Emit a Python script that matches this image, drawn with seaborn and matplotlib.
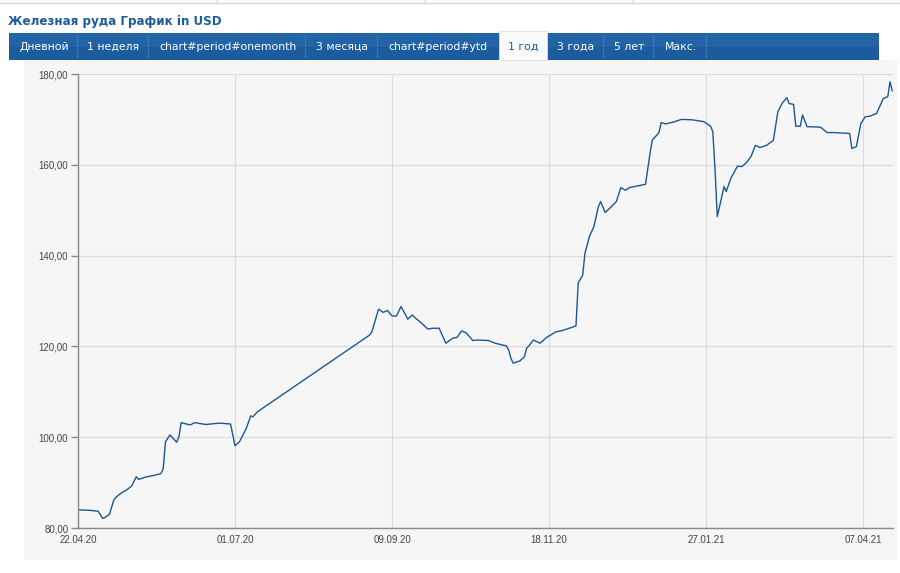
import pandas as pd
import numpy as np
import seaborn as sns
import matplotlib.pyplot as plt
import matplotlib.dates as mdates
from matplotlib.patches import Rectangle
from matplotlib.lines import Line2D
from matplotlib.ticker import FuncFormatter

# Iron ore price, USD
dates = ['2020-04-22', '2020-04-27', '2020-05-01', '2020-05-03', '2020-05-04', '2020-05-06',
         '2020-05-08', '2020-05-09', '2020-05-11', '2020-05-14', '2020-05-16', '2020-05-18',
         '2020-05-19', '2020-05-22', '2020-05-26', '2020-05-29', '2020-05-30', '2020-05-31',
         '2020-06-02', '2020-06-05', '2020-06-06', '2020-06-07', '2020-06-11', '2020-06-13',
         '2020-06-18', '2020-06-24', '2020-06-29', '2020-07-01', '2020-07-03', '2020-07-06',
         '2020-07-08', '2020-07-09', '2020-07-11', '2020-08-30', '2020-08-31', '2020-09-03',
         '2020-09-05', '2020-09-07', '2020-09-09', '2020-09-11', '2020-09-13', '2020-09-14',
         '2020-09-16', '2020-09-18', '2020-09-20', '2020-09-22', '2020-09-25', '2020-09-27',
         '2020-09-30', '2020-10-03', '2020-10-06', '2020-10-08', '2020-10-10', '2020-10-12',
         '2020-10-15', '2020-10-17', '2020-10-22', '2020-10-25', '2020-10-30', '2020-10-31',
         '2020-11-01', '2020-11-02', '2020-11-05', '2020-11-07', '2020-11-08', '2020-11-09',
         '2020-11-11', '2020-11-14', '2020-11-17', '2020-11-21', '2020-11-24', '2020-11-30',
         '2020-12-01', '2020-12-03', '2020-12-04', '2020-12-06', '2020-12-08', '2020-12-10',
         '2020-12-11', '2020-12-13', '2020-12-15', '2020-12-18', '2020-12-20', '2020-12-22',
         '2020-12-24', '2020-12-31', '2021-01-02', '2021-01-03', '2021-01-06', '2021-01-07',
         '2021-01-09', '2021-01-13', '2021-01-16', '2021-01-21', '2021-01-26', '2021-01-29',
         '2021-01-30', '2021-01-31', '2021-02-01', '2021-02-04', '2021-02-05', '2021-02-07',
         '2021-02-10', '2021-02-12', '2021-02-14', '2021-02-16', '2021-02-18', '2021-02-20',
         '2021-02-23', '2021-02-26', '2021-02-28', '2021-03-02', '2021-03-04', '2021-03-05',
         '2021-03-07', '2021-03-08', '2021-03-10', '2021-03-11', '2021-03-13', '2021-03-19',
         '2021-03-22', '2021-03-25', '2021-04-01', '2021-04-02', '2021-04-04', '2021-04-06',
         '2021-04-08', '2021-04-10', '2021-04-13', '2021-04-16', '2021-04-18', '2021-04-19',
         '2021-04-20']
prices = [84.0, 83.9, 83.7, 82.1, 82.3, 83.0,
          86.2, 86.8, 87.6, 88.5, 89.3, 91.3,
          90.7, 91.2, 91.6, 92.0, 93.1, 99.0,
          100.5, 98.9, 100.1, 103.2, 102.7, 103.2,
          102.8, 103.1, 102.9, 98.1, 99.0, 101.9,
          104.7, 104.5, 105.6, 122.5, 123.2, 128.2,
          127.5, 127.9, 126.7, 126.7, 128.8, 127.9,
          126.0, 126.9, 126.0, 125.2, 123.8, 124.0,
          124.0, 120.7, 121.8, 122.0, 123.4, 123.0,
          121.3, 121.4, 121.3, 120.7, 120.1, 119.2,
          117.4, 116.3, 116.8, 117.7, 119.6, 120.1,
          121.4, 120.7, 122.0, 123.2, 123.5, 124.5,
          134.0, 135.7, 140.5, 144.2, 146.4, 150.8,
          151.9, 149.5, 150.4, 151.9, 155.0, 154.4,
          155.0, 155.7, 162.5, 165.4, 167.1, 169.3,
          169.0, 169.5, 170.0, 169.9, 169.5, 168.5,
          167.3, 158.9, 148.6, 155.2, 154.1, 157.0,
          159.7, 159.6, 160.5, 161.8, 164.3, 163.8,
          164.3, 165.4, 171.7, 173.6, 174.8, 173.5,
          173.3, 168.5, 168.5, 171.0, 168.4, 168.3,
          167.1, 167.1, 166.9, 163.6, 164.0, 169.1,
          170.6, 170.7, 171.3, 174.6, 175.0, 178.3,
          176.3]

tick_dates = ['2020-04-22', '2020-07-01', '2020-09-09', '2020-11-18', '2021-01-27', '2021-04-07']
y_ticks = [80, 100, 120, 140, 160, 180]

title = 'Железная руда График in USD'
tabs = ['Дневной', '1 неделя', 'chart#period#onemonth', '3 месяца', 'chart#period#ytd',
        '1 год', '3 года', '5 лет', 'Макс.']
active_tab = '1 год'

df = pd.DataFrame({'date': pd.to_datetime(dates), 'price': prices})

W, H = 900, 573
fig = plt.figure(figsize=(9, 5.73), dpi=100, facecolor='white')

def fx(px):
    return px / W

def fy(py):
    return 1 - py / H

# light panel behind the chart
fig.patches.append(Rectangle((fx(24), fy(560)), fx(873), (560 - 60) / H,
                             transform=fig.transFigure, facecolor='#f6f6f6', edgecolor='none', zorder=-5))

# thin rule at the very top
fig.lines.append(Line2D([0, 1], [fy(3), fy(3)], transform=fig.transFigure, color='#d8d8d8', lw=1))
for px in [217, 425, 633]:
    fig.lines.append(Line2D([fx(px), fx(px)], [fy(0), fy(3)], transform=fig.transFigure, color='#d8d8d8', lw=1))

fig.text(fx(8), fy(22), title, fontsize=8.6, fontweight='bold', color='#1f5c99',
         va='center', ha='left', family='DejaVu Sans')

# tab bar
fig.patches.append(Rectangle((fx(9), fy(60)), fx(870), 27 / H, transform=fig.transFigure,
                             facecolor='#1a5c9e', edgecolor='none', zorder=1))
fig.patches.append(Rectangle((fx(9), fy(47)), fx(870), 14 / H, transform=fig.transFigure,
                             facecolor='#2364a6', edgecolor='none', zorder=1))
tab_edges = [9, 77, 148, 305, 377, 497, 547, 603, 653, 706]
for i, name in enumerate(tabs):
    left, right = tab_edges[i], tab_edges[i + 1]
    if name == active_tab:
        fig.patches.append(Rectangle((fx(left + 2), fy(60)), fx(right - left - 2), 29 / H,
                                     transform=fig.transFigure, facecolor='#fbfbfb',
                                     edgecolor='#e0e0e0', lw=0.6, zorder=2))
        col = '#1f5c99'
    else:
        col = 'white'
    fig.text(fx((left + right) / 2 + 1), fy(47), name, fontsize=7.8, color=col,
             ha='center', va='center', family='DejaVu Sans', zorder=3)
for px in tab_edges[1:]:
    if px in (497, 547):
        continue
    fig.lines.append(Line2D([fx(px), fx(px)], [fy(36), fy(58)], transform=fig.transFigure,
                            color='#6e96c2', lw=0.8, ls=(0, (1, 1.5)), zorder=2))

# chart
ax = fig.add_axes([fx(78), fy(528), fx(815), (528 - 74) / H])
ax.set_facecolor('#f6f6f6')
sns.lineplot(data=df, x='date', y='price', ax=ax, color='#1c5793', lw=1.0)

ax.set_xlim(pd.Timestamp('2020-04-22'), pd.Timestamp('2021-04-20 08:00'))
ax.set_ylim(80, 180)
ax.set_xticks(pd.to_datetime(tick_dates))
ax.xaxis.set_major_formatter(mdates.DateFormatter('%d.%m.%y'))
ax.set_yticks(y_ticks)
ax.yaxis.set_major_formatter(FuncFormatter(lambda v, p: f'{v:.2f}'.replace('.', ',')))
ax.grid(True, color='#dcdcdc', lw=0.9)
ax.set_axisbelow(True)
ax.set_xlabel('')
ax.set_ylabel('')
for s in ['top', 'right']:
    ax.spines[s].set_visible(False)
for s in ['left', 'bottom']:
    ax.spines[s].set_color('#8a8a8a')
    ax.spines[s].set_linewidth(1.0)
ax.tick_params(axis='y', length=5, width=1, color='#8a8a8a', labelsize=7, labelcolor='#444444', pad=2)
ax.tick_params(axis='x', length=0, labelsize=7, labelcolor='#444444', pad=5)
for lab in ax.get_xticklabels() + ax.get_yticklabels():
    lab.set_family('Liberation Sans')

fig.savefig('out.png', dpi=100, facecolor='white')
